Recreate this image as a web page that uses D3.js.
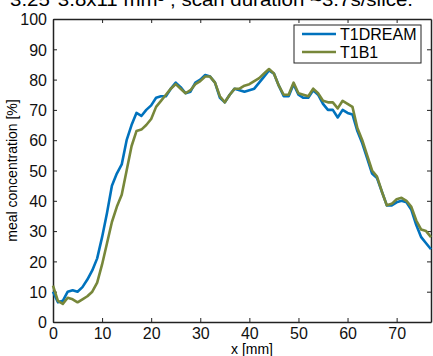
<!DOCTYPE html>
<html>
<head>
<meta charset="utf-8">
<script src="https://cdn.jsdelivr.net/npm/d3@7"></script>
<style>
  body { margin: 0; background: #fff; }
  text { font-family: "Liberation Sans", Arial, sans-serif; }
</style>
</head>
<body>
<div id="chart"></div>
<script>
// data, 1 mm steps
const xs = d3.range(0, 78);
const dream = [10, 6.5, 7, 10, 10.5, 10, 11.5, 14, 17, 21, 28, 36, 45, 49, 52, 60, 65, 69, 68, 70,
  71.5, 74, 74.5, 74.5, 77, 79, 77.5, 75.5, 76, 79, 80, 81.5, 81, 79, 74, 72.5, 75, 77, 76.5, 76,
  76.5, 77, 79, 81, 83, 82, 78, 74.5, 74.5, 78.5, 75, 74, 74, 76.5, 75, 72, 70, 70, 67.5, 70,
  69, 68.5, 63, 59, 54, 49, 47.5, 43, 38.5, 38.5, 39.5, 40, 39.5, 37, 32, 28, 26, 24];
const b1 = [12, 7, 6, 8, 7.5, 6.5, 7.5, 8.5, 10, 13, 19, 26, 33, 38, 42, 50, 58, 63, 63.5, 65,
  67, 71, 73, 75, 77, 78.5, 77, 75.5, 76.5, 78.5, 79.5, 81, 81, 79, 74.5, 72.5, 75, 77, 77, 78,
  78.5, 79.5, 80.5, 82, 83.5, 82, 78, 75, 75, 79, 75.5, 75, 74.5, 77, 75.5, 73, 72.5, 72.5, 70.5, 73,
  72, 71, 64, 60, 55, 50, 48, 43, 38.5, 39, 40.5, 41, 40, 38, 33.5, 30.5, 30, 28];
const seriesNames = ["T1DREAM", "T1B1"];
const seriesColors = ["#0072BD", "#77873a"];
const xTicks = [0, 10, 20, 30, 40, 50, 60, 70];
const yTicks = [0, 10, 20, 30, 40, 50, 60, 70, 80, 90, 100];

const dimensions = {
  width: 433,
  height: 356,
  margin: { top: 19, right: 2, bottom: 34, left: 53 },
};
dimensions.boundedWidth = dimensions.width - dimensions.margin.left - dimensions.margin.right;
dimensions.boundedHeight = dimensions.height - dimensions.margin.top - dimensions.margin.bottom;

const svg = d3.select("#chart")
  .append("svg")
  .attr("width", dimensions.width)
  .attr("height", dimensions.height);

const x = d3.scaleLinear().domain([0, 77]).range([0, dimensions.boundedWidth]);
const y = d3.scaleLinear().domain([0, 100]).range([dimensions.boundedHeight, 0]);

// title of the original figure, cut off at the top edge
svg.append("text")
  .attr("x", 10)
  .attr("y", 6)
  .attr("textLength", 403)
  .attr("lengthAdjust", "spacingAndGlyphs")
  .style("font-size", "18px")
  .text("3.25*3.8x11 mm³ ; scan duration ~3.7s/slice.");

const bounds = svg.append("g")
  .attr("transform", `translate(${dimensions.margin.left},${dimensions.margin.top})`);

// axes with inward ticks
const tick = 4;
bounds.append("g")
  .attr("transform", `translate(0,${dimensions.boundedHeight})`)
  .call(d3.axisBottom(x).tickValues(xTicks).tickSizeInner(-tick).tickSizeOuter(0).tickPadding(6))
  .call(g => g.selectAll("text").style("font-size", "16px").attr("fill", "#111"));
bounds.append("g")
  .call(d3.axisTop(x).tickValues(xTicks).tickSizeInner(-tick).tickSizeOuter(0))
  .call(g => g.selectAll("text").remove());
bounds.append("g")
  .call(d3.axisLeft(y).tickValues(yTicks).tickSizeInner(-tick).tickSizeOuter(0).tickPadding(6))
  .call(g => g.selectAll("text").style("font-size", "16px").attr("fill", "#111").attr("dy", "0.36em"));
bounds.append("g")
  .attr("transform", `translate(${dimensions.boundedWidth},0)`)
  .call(d3.axisRight(y).tickValues(yTicks).tickSizeInner(-tick).tickSizeOuter(0))
  .call(g => g.selectAll("text").remove());
bounds.selectAll(".domain").attr("stroke", "#222").attr("stroke-width", 1.5);
bounds.selectAll(".tick line").attr("stroke", "#222");

// lines
const line = d3.line()
  .x((d, i) => x(xs[i]))
  .y(d => y(d));

[dream, b1].forEach((s, k) => {
  bounds.append("path")
    .datum(s)
    .attr("fill", "none")
    .attr("stroke", seriesColors[k])
    .attr("stroke-width", 2.6)
    .attr("stroke-linejoin", "round")
    .attr("d", line);
});

// axis labels
svg.append("text")
  .attr("x", 252)
  .attr("y", 354)
  .attr("text-anchor", "middle")
  .style("font-size", "14px")
  .text("x [mm]");

svg.append("text")
  .attr("transform", `translate(17,${dimensions.margin.top + dimensions.boundedHeight / 2}) rotate(-90)`)
  .attr("text-anchor", "middle")
  .style("font-size", "14px")
  .text("meal concentration [%]");

// legend
const legend = svg.append("g").attr("transform", "translate(294,25)");
legend.append("rect")
  .attr("width", 127)
  .attr("height", 38)
  .attr("fill", "#fff")
  .attr("stroke", "#222")
  .attr("stroke-width", 1);
seriesNames.forEach((name, i) => {
  const ly = 9 + i * 18;
  legend.append("line")
    .attr("x1", 8).attr("x2", 42)
    .attr("y1", ly).attr("y2", ly)
    .attr("stroke", seriesColors[i])
    .attr("stroke-width", 2.6);
  legend.append("text")
    .attr("x", 46)
    .attr("y", ly)
    .attr("dy", "0.36em")
    .style("font-size", "16px")
    .text(name);
});
</script>
</body>
</html>
